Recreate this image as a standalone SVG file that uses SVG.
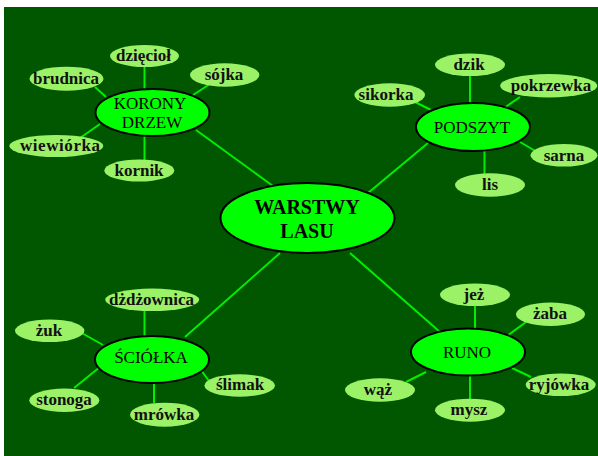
<svg xmlns="http://www.w3.org/2000/svg" width="598" height="456" viewBox="0 0 598 456">
<style>
.hub{fill:#00ff00;stroke:#000;stroke-width:2}
.leaf{fill:#9cf266}
.ht{font-family:"Liberation Serif","Times New Roman",serif;font-size:17px;fill:#000;text-anchor:middle}
.ct{font-family:"Liberation Serif","Times New Roman",serif;font-size:20px;font-weight:bold;fill:#000;text-anchor:middle}
.lt{font-family:"Liberation Serif","Times New Roman",serif;font-size:17px;font-weight:bold;fill:#111;text-anchor:middle}
#connectors line{stroke:#00ee00;stroke-width:2}
</style>
<rect x="0" y="0" width="598" height="456" fill="#fff"/>
<rect x="4" y="7" width="594" height="449" fill="#005700"/>
<g id="connectors">
<line x1="196" y1="130" x2="273" y2="186"/>
<line x1="428" y1="143" x2="368" y2="193"/>
<line x1="185" y1="337" x2="280" y2="253"/>
<line x1="440" y1="332" x2="350" y2="253"/>
<line x1="144.5" y1="66" x2="144.5" y2="90"/>
<line x1="95" y1="87" x2="106" y2="97"/>
<line x1="210" y1="84" x2="193" y2="95"/>
<line x1="80" y1="138" x2="100" y2="124"/>
<line x1="144.5" y1="135" x2="144.5" y2="160"/>
<line x1="470" y1="75" x2="470" y2="104"/>
<line x1="520" y1="97" x2="504" y2="108"/>
<line x1="415" y1="102" x2="433" y2="111"/>
<line x1="520" y1="142" x2="537" y2="152"/>
<line x1="484.5" y1="150" x2="484.5" y2="174"/>
<line x1="144.5" y1="310" x2="144.5" y2="336"/>
<line x1="80" y1="332" x2="103" y2="345"/>
<line x1="74" y1="388" x2="100" y2="367"/>
<line x1="154" y1="383" x2="154" y2="403"/>
<line x1="201" y1="370" x2="209" y2="381"/>
<line x1="475" y1="305" x2="475" y2="328"/>
<line x1="507" y1="336" x2="526" y2="322"/>
<line x1="512" y1="368" x2="531" y2="377"/>
<line x1="470" y1="375" x2="470" y2="399"/>
<line x1="406" y1="382" x2="426" y2="372"/>
</g>
<g id="center">
<ellipse class="hub" cx="307.5" cy="218" rx="87" ry="35"/>
<text class="ct" x="307" y="214">WARSTWY</text>
<text class="ct" x="307" y="238">LASU</text>
</g>
<g id="korony">
<ellipse class="hub" cx="152.5" cy="112.5" rx="57" ry="23.5"/>
<text class="ht" x="150" y="109">KORONY</text>
<text class="ht" x="152" y="128">DRZEW</text>
</g>
<g id="podszyt">
<ellipse class="hub" cx="473" cy="127" rx="57" ry="24"/>
<text class="ht" x="472" y="133">PODSZYT</text>
</g>
<g id="sciolka">
<ellipse class="hub" cx="152" cy="359.5" rx="57" ry="23.5"/>
<text class="ht" x="151" y="363">ŚCIÓŁKA</text>
</g>
<g id="runo">
<ellipse class="hub" cx="468" cy="352" rx="57" ry="23.5"/>
<text class="ht" x="467" y="357.5">RUNO</text>
</g>
<g id="dzieciol"><ellipse class="leaf" cx="144.5" cy="56" rx="34.5" ry="11"/><text class="lt" x="143.5" y="61">dzięcioł</text></g>
<g id="brudnica"><ellipse class="leaf" cx="66.5" cy="78.7" rx="37" ry="12"/><text class="lt" x="66" y="83.5">brudnica</text></g>
<g id="sojka"><ellipse class="leaf" cx="224.7" cy="75" rx="34.7" ry="11.7"/><text class="lt" x="224" y="80">sójka</text></g>
<g id="wiewiorka"><ellipse class="leaf" cx="56.3" cy="146" rx="47" ry="11"/><text class="lt" x="60" y="150.5" textLength="80" lengthAdjust="spacing">wiewiórka</text></g>
<g id="kornik"><ellipse class="leaf" cx="139.3" cy="170.5" rx="35" ry="11"/><text class="lt" x="139" y="175.5">kornik</text></g>
<g id="dzik"><ellipse class="leaf" cx="470" cy="64.7" rx="35" ry="11.3"/><text class="lt" x="469" y="70">dzik</text></g>
<g id="pokrzewka"><ellipse class="leaf" cx="548.7" cy="85.7" rx="48.5" ry="11.7"/><text class="lt" x="551" y="90.5">pokrzewka</text></g>
<g id="sikorka"><ellipse class="leaf" cx="389.7" cy="95" rx="35.3" ry="11.7"/><text class="lt" x="386" y="100">sikorka</text></g>
<g id="sarna"><ellipse class="leaf" cx="564" cy="155.3" rx="33.5" ry="11.3"/><text class="lt" x="564" y="160.5">sarna</text></g>
<g id="lis"><ellipse class="leaf" cx="490" cy="185" rx="35" ry="11.7"/><text class="lt" x="490" y="190">lis</text></g>
<g id="dzdzownica"><ellipse class="leaf" cx="152.2" cy="299.8" rx="47" ry="11.2"/><text class="lt" x="151.5" y="305">dżdżownica</text></g>
<g id="zuk"><ellipse class="leaf" cx="49.7" cy="330.7" rx="34.7" ry="11.3"/><text class="lt" x="49" y="335.5">żuk</text></g>
<g id="stonoga"><ellipse class="leaf" cx="64.3" cy="400.3" rx="35" ry="11.7"/><text class="lt" x="64" y="405">stonoga</text></g>
<g id="mrowka"><ellipse class="leaf" cx="164.7" cy="414.7" rx="34.7" ry="12"/><text class="lt" x="164" y="419.5">mrówka</text></g>
<g id="slimak"><ellipse class="leaf" cx="239.7" cy="385.5" rx="35.3" ry="11.2"/><text class="lt" x="240" y="390">ślimak</text></g>
<g id="jez"><ellipse class="leaf" cx="475" cy="294.7" rx="35" ry="11.3"/><text class="lt" x="474" y="299.5">jeż</text></g>
<g id="zaba"><ellipse class="leaf" cx="550.5" cy="314.3" rx="34.5" ry="11.7"/><text class="lt" x="550" y="319">żaba</text></g>
<g id="ryjowka"><ellipse class="leaf" cx="560.7" cy="384.7" rx="35" ry="11.3"/><text class="lt" x="559" y="389.5">ryjówka</text></g>
<g id="mysz"><ellipse class="leaf" cx="470" cy="410.2" rx="35" ry="11.5"/><text class="lt" x="469" y="415">mysz</text></g>
<g id="waz"><ellipse class="leaf" cx="380" cy="390" rx="35" ry="11.7"/><text class="lt" x="378" y="395">wąż</text></g>
</svg>
